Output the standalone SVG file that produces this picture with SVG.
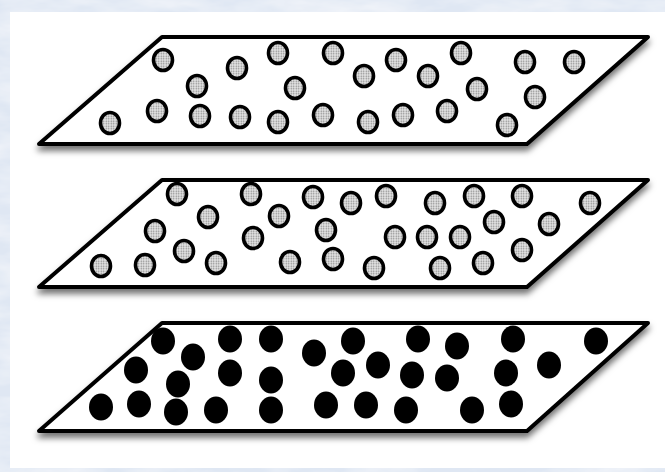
<svg xmlns="http://www.w3.org/2000/svg" width="665" height="472" viewBox="0 0 665 472">
<defs>
<pattern id="dots" width="2.5" height="2.5" patternUnits="userSpaceOnUse">
<rect width="2.5" height="2.5" fill="#e6e6e6"/>
<circle cx="1.25" cy="1.25" r="0.75" fill="#858585"/>
</pattern>
<filter id="shadow" x="-10%" y="-20%" width="120%" height="150%">
<feDropShadow dx="0" dy="5" stdDeviation="3" flood-color="#000" flood-opacity="0.55"/>
</filter>
<filter id="marble" x="0" y="0" width="100%" height="100%">
<feTurbulence type="fractalNoise" baseFrequency="0.015 0.05" numOctaves="4" seed="3" result="n"/>
<feColorMatrix in="n" type="matrix" values="0 0 0 0 1  0 0 0 0 1  0 0 0 0 1  0 0 0 1.0 -0.35" result="w"/>
<feComposite in="w" in2="SourceGraphic" operator="over"/>
</filter>
<style>
.slab{fill:#fff;stroke:#000;stroke-width:4;stroke-linejoin:round;filter:url(#shadow)}
.p{fill:url(#dots);stroke:#000;stroke-width:3.6}
.b{fill:#000}
</style>
</defs>
<rect id="background" x="0" y="0" width="665" height="472" fill="#dfe7f3" filter="url(#marble)"/>
<rect id="panel" x="10" y="12" width="655" height="456" fill="#fff"/>

<g id="layer1">
<polygon class="slab" points="162,37 648,37 527,144 39,144"/>
<g>
<ellipse class="p" cx="163" cy="60" rx="9.5" ry="10.5"/>
<ellipse class="p" cx="197" cy="86" rx="9.5" ry="10.5"/>
<ellipse class="p" cx="237" cy="68" rx="9.5" ry="10.5"/>
<ellipse class="p" cx="278" cy="53" rx="9.5" ry="10.5"/>
<ellipse class="p" cx="333" cy="53" rx="9.5" ry="10.5"/>
<ellipse class="p" cx="295" cy="88" rx="9.5" ry="10.5"/>
<ellipse class="p" cx="364" cy="76" rx="9.5" ry="10.5"/>
<ellipse class="p" cx="396" cy="60" rx="9.5" ry="10.5"/>
<ellipse class="p" cx="428" cy="76" rx="9.5" ry="10.5"/>
<ellipse class="p" cx="461" cy="53" rx="9.5" ry="10.5"/>
<ellipse class="p" cx="477" cy="89" rx="9.5" ry="10.5"/>
<ellipse class="p" cx="525" cy="62" rx="9.5" ry="10.5"/>
<ellipse class="p" cx="574" cy="62" rx="9.5" ry="10.5"/>
<ellipse class="p" cx="535" cy="97" rx="9.5" ry="10.5"/>
<ellipse class="p" cx="507" cy="125" rx="9.5" ry="10.5"/>
<ellipse class="p" cx="110" cy="123" rx="9.5" ry="10.5"/>
<ellipse class="p" cx="157" cy="111" rx="9.5" ry="10.5"/>
<ellipse class="p" cx="200" cy="116" rx="9.5" ry="10.5"/>
<ellipse class="p" cx="240" cy="117" rx="9.5" ry="10.5"/>
<ellipse class="p" cx="278" cy="122" rx="9.5" ry="10.5"/>
<ellipse class="p" cx="323" cy="115" rx="9.5" ry="10.5"/>
<ellipse class="p" cx="368" cy="122" rx="9.5" ry="10.5"/>
<ellipse class="p" cx="403" cy="115" rx="9.5" ry="10.5"/>
<ellipse class="p" cx="447" cy="111" rx="9.5" ry="10.5"/>
</g>
</g>

<g id="layer2">
<polygon class="slab" points="162,180 648,180 527,287 39,287"/>
<g>
<ellipse class="p" cx="177" cy="194" rx="9.5" ry="10.5"/>
<ellipse class="p" cx="208" cy="217" rx="9.5" ry="10.5"/>
<ellipse class="p" cx="155" cy="231" rx="9.5" ry="10.5"/>
<ellipse class="p" cx="184" cy="251" rx="9.5" ry="10.5"/>
<ellipse class="p" cx="101" cy="266" rx="9.5" ry="10.5"/>
<ellipse class="p" cx="145" cy="265" rx="9.5" ry="10.5"/>
<ellipse class="p" cx="216" cy="263" rx="9.5" ry="10.5"/>
<ellipse class="p" cx="251" cy="194" rx="9.5" ry="10.5"/>
<ellipse class="p" cx="279" cy="216" rx="9.5" ry="10.5"/>
<ellipse class="p" cx="253" cy="238" rx="9.5" ry="10.5"/>
<ellipse class="p" cx="313" cy="197" rx="9.5" ry="10.5"/>
<ellipse class="p" cx="351" cy="203" rx="9.5" ry="10.5"/>
<ellipse class="p" cx="386" cy="196" rx="9.5" ry="10.5"/>
<ellipse class="p" cx="326" cy="230" rx="9.5" ry="10.5"/>
<ellipse class="p" cx="290" cy="262" rx="9.5" ry="10.5"/>
<ellipse class="p" cx="333" cy="259" rx="9.5" ry="10.5"/>
<ellipse class="p" cx="374" cy="268" rx="9.5" ry="10.5"/>
<ellipse class="p" cx="435" cy="203" rx="9.5" ry="10.5"/>
<ellipse class="p" cx="474" cy="196" rx="9.5" ry="10.5"/>
<ellipse class="p" cx="522" cy="196" rx="9.5" ry="10.5"/>
<ellipse class="p" cx="590" cy="203" rx="9.5" ry="10.5"/>
<ellipse class="p" cx="395" cy="237" rx="9.5" ry="10.5"/>
<ellipse class="p" cx="427" cy="237" rx="9.5" ry="10.5"/>
<ellipse class="p" cx="460" cy="237" rx="9.5" ry="10.5"/>
<ellipse class="p" cx="494" cy="222" rx="9.5" ry="10.5"/>
<ellipse class="p" cx="549" cy="224" rx="9.5" ry="10.5"/>
<ellipse class="p" cx="522" cy="250" rx="9.5" ry="10.5"/>
<ellipse class="p" cx="440" cy="268" rx="9.5" ry="10.5"/>
<ellipse class="p" cx="483" cy="263" rx="9.5" ry="10.5"/>
</g>
</g>

<g id="layer3">
<polygon class="slab" points="162,323 648,323 527,431 39,431"/>
<g>
<ellipse class="b" cx="163" cy="341" rx="12" ry="13.5"/>
<ellipse class="b" cx="193" cy="357" rx="12" ry="13.5"/>
<ellipse class="b" cx="230" cy="339" rx="12" ry="13.5"/>
<ellipse class="b" cx="271" cy="339" rx="12" ry="13.5"/>
<ellipse class="b" cx="314" cy="353" rx="12" ry="13.5"/>
<ellipse class="b" cx="353" cy="341" rx="12" ry="13.5"/>
<ellipse class="b" cx="418" cy="339" rx="12" ry="13.5"/>
<ellipse class="b" cx="457" cy="346" rx="12" ry="13.5"/>
<ellipse class="b" cx="513" cy="339" rx="12" ry="13.5"/>
<ellipse class="b" cx="596" cy="341" rx="12" ry="13.5"/>
<ellipse class="b" cx="136" cy="370" rx="12" ry="13.5"/>
<ellipse class="b" cx="178" cy="384" rx="12" ry="13.5"/>
<ellipse class="b" cx="230" cy="373" rx="12" ry="13.5"/>
<ellipse class="b" cx="271" cy="380" rx="12" ry="13.5"/>
<ellipse class="b" cx="343" cy="373" rx="12" ry="13.5"/>
<ellipse class="b" cx="378" cy="365" rx="12" ry="13.5"/>
<ellipse class="b" cx="412" cy="375" rx="12" ry="13.5"/>
<ellipse class="b" cx="447" cy="378" rx="12" ry="13.5"/>
<ellipse class="b" cx="506" cy="373" rx="12" ry="13.5"/>
<ellipse class="b" cx="549" cy="365" rx="12" ry="13.5"/>
<ellipse class="b" cx="101" cy="407" rx="12" ry="13.5"/>
<ellipse class="b" cx="139" cy="404" rx="12" ry="13.5"/>
<ellipse class="b" cx="176" cy="412" rx="12" ry="13.5"/>
<ellipse class="b" cx="216" cy="410" rx="12" ry="13.5"/>
<ellipse class="b" cx="271" cy="410" rx="12" ry="13.5"/>
<ellipse class="b" cx="326" cy="405" rx="12" ry="13.5"/>
<ellipse class="b" cx="366" cy="405" rx="12" ry="13.5"/>
<ellipse class="b" cx="406" cy="410" rx="12" ry="13.5"/>
<ellipse class="b" cx="472" cy="410" rx="12" ry="13.5"/>
<ellipse class="b" cx="511" cy="404" rx="12" ry="13.5"/>
</g>
</g>
</svg>
